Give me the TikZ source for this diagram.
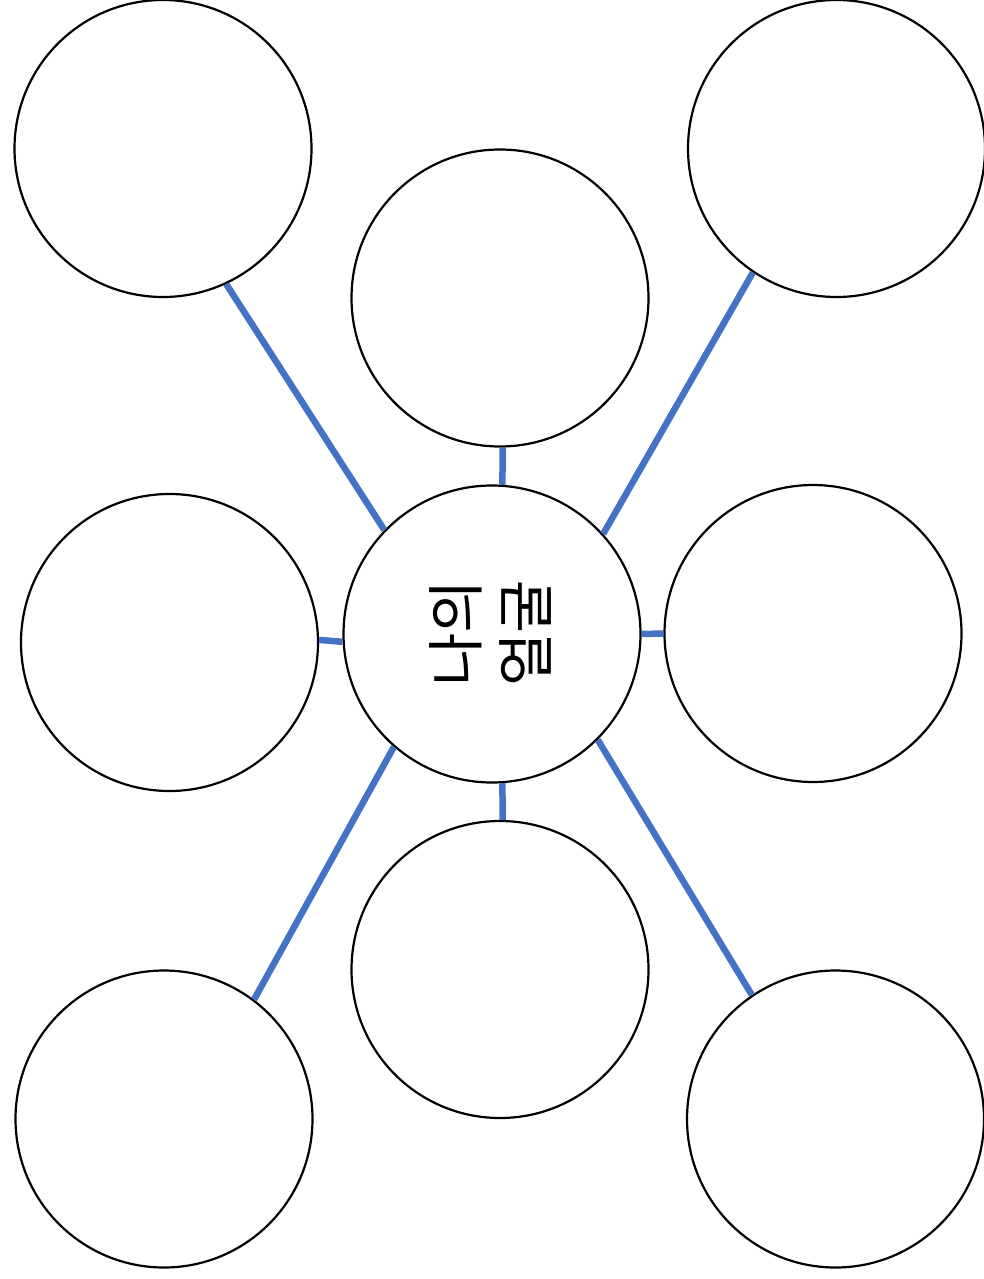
\documentclass[tikz,border=0pt]{standalone}
\usepackage{fontspec}
\newfontfamily\kor{Noto Sans CJK KR}
\definecolor{linkblue}{HTML}{4472C4}
\tikzset{
  bubble/.style={circle, draw=black, line width=2.2pt, fill=white, minimum size=297pt, inner sep=0pt},
  link/.style={draw=linkblue, line width=6.5pt},
  title/.style={font=\kor\fontsize{58}{70}\selectfont, align=center, rotate=90, inner sep=0pt}
}
\begin{document}
\begin{tikzpicture}[x=1pt, y=-1pt]
  \useasboundingbox (0,0) rectangle (983,1279);
  \node[bubble] (tl) at (163,148.5) {};
  \node[bubble] (tr) at (836.5,148.5) {};
  \node[bubble] (tm) at (500,298) {};
  \node[bubble] (ml) at (169.5,642.5) {};
  \node[bubble] (c)  at (492,634) {};
  \node[bubble] (mr) at (813,633.5) {};
  \node[bubble] (bm) at (500,969.5) {};
  \node[bubble] (bl) at (164,1119) {};
  \node[bubble] (br) at (835.5,1119) {};
  \node[title] (txt) at (490,633) {나의\\얼굴};

  \draw[link] (tl.-65.6) -- (c.136.6);
  \draw[link] (tr.-124.8) -- (c.42.6);
  \draw[link] (tm.-89.6) -- (c.86.5);
  \draw[link] (ml.1) -- (c.-177.7);
  \draw[link] (c.0) -- (mr.180);
  \draw[link] (c.-86.5) -- (bm.89.6);
  \draw[link] (bl.53.7) -- (c.-131);
  \draw[link] (br.124) -- (c.-45.8);
\end{tikzpicture}
\end{document}
